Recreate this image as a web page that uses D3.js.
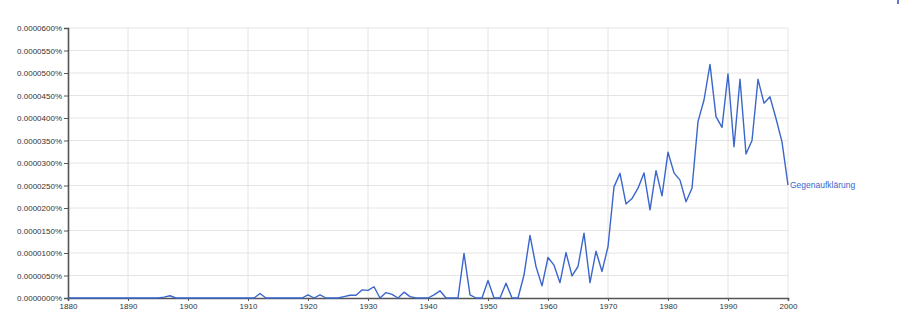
<!DOCTYPE html>
<html>
<head>
<meta charset="utf-8">
<script src="https://cdn.jsdelivr.net/npm/d3@7"></script>
<style>
  body { margin: 0; background: #fff; }
  svg { display: block; font-family: "Liberation Sans", Arial, sans-serif; }
</style>
</head>
<body>
<svg></svg>
<script>
// 資料：每十年一組，單位 0.000001%
const startYear = 1880;
const endYear = 2000;
const seriesName = "Gegenaufklärung";
const values = [
  0, 0, 0, 0, 0, 0, 0, 0, 0, 0,                          // 1880s
  0, 0, 0, 0, 0, 0, 0.2, 0.5, 0, 0,                      // 1890s
  0, 0, 0, 0, 0, 0, 0, 0, 0, 0,                          // 1900s
  0, 0, 1.0, 0, 0, 0, 0, 0, 0, 0,                        // 1910s
  0.7, 0, 0.7, 0, 0, 0, 0.3, 0.6, 0.6, 1.8,              // 1920s
  1.7, 2.5, 0, 1.2, 0.8, 0, 1.3, 0.3, 0, 0,              // 1930s
  0, 0.7, 1.6, 0, 0, 0, 9.9, 0.7, 0, 0,                  // 1940s
  3.9, 0, 0, 3.3, 0, 0, 5.1, 13.9, 7.0, 2.7,             // 1950s
  9.0, 7.3, 3.4, 10.1, 4.9, 7.0, 14.4, 3.4, 10.4, 5.9,   // 1960s
  11.4, 24.7, 27.7, 20.9, 22.1, 24.4, 27.8, 19.6, 28.3, 22.7, // 1970s
  32.4, 27.8, 26.2, 21.4, 24.4, 39.2, 44.0, 51.9, 40.3, 37.9, // 1980s
  49.8, 33.6, 48.6, 32.0, 35.0, 48.6, 43.3, 44.7, 39.9, 34.7, // 1990s
  25.1                                                   // 2000
];
const xTicks = [1880, 1890, 1900, 1910, 1920, 1930, 1940, 1950, 1960, 1970, 1980, 1990, 2000];
const yTicks = [0, 5, 10, 15, 20, 25, 30, 35, 40, 45, 50, 55, 60];

const years = d3.range(startYear, endYear + 1);
const data = years.map((y, i) => ({ year: y, value: values[i] }));

// 畫布
const svgSize = { width: 900, height: 318 };
const margin = { top: 28, right: 112, bottom: 20, left: 68 };
const width = svgSize.width - margin.left - margin.right;
const height = svgSize.height - margin.top - margin.bottom;

const svg = d3.select("svg")
  .attr("width", svgSize.width)
  .attr("height", svgSize.height);

const chart = svg.append("g")
  .attr("transform", `translate(${margin.left},${margin.top})`);

const x = d3.scaleLinear().domain([startYear, endYear]).range([0, width]);
const y = d3.scaleLinear().domain([0, 60]).range([height, 0]);

// 格線
chart.append("g")
  .selectAll("line.vgrid")
  .data(xTicks.slice(1))
  .enter().append("line")
  .attr("x1", d => x(d)).attr("x2", d => x(d))
  .attr("y1", 0).attr("y2", height)
  .attr("stroke", "#e4e4e4").attr("stroke-width", 1);

chart.append("g")
  .selectAll("line.hgrid")
  .data(yTicks.slice(1))
  .enter().append("line")
  .attr("x1", 0).attr("x2", width)
  .attr("y1", d => y(d)).attr("y2", d => y(d))
  .attr("stroke", "#e4e4e4").attr("stroke-width", 1);

// 座標軸
const yAxis = d3.axisLeft(y)
  .tickValues(yTicks)
  .tickSize(4)
  .tickPadding(2)
  .tickFormat(d => (d * 1e-6).toFixed(7) + "%");

const xAxis = d3.axisBottom(x)
  .tickValues(xTicks)
  .tickSize(3)
  .tickPadding(2)
  .tickFormat(d3.format("d"));

const gx = chart.append("g")
  .attr("transform", `translate(0,${height})`)
  .call(xAxis);
const gy = chart.append("g").call(yAxis);

[gx, gy].forEach(g => {
  g.select(".domain").attr("stroke", "#555").attr("stroke-width", 1.6);
  g.selectAll(".tick line").attr("stroke", "#555");
  g.selectAll(".tick text").attr("fill", "#333").style("font-size", "8px");
});

// 折線
const line = d3.line()
  .x(d => x(d.year))
  .y(d => y(d.value));

chart.append("path")
  .datum(data)
  .attr("fill", "none")
  .attr("stroke", "#3a66cc")
  .attr("stroke-width", 1.4)
  .attr("stroke-linejoin", "round")
  .attr("d", line);

// 系列名稱
const last = data[data.length - 1];
chart.append("text")
  .attr("x", x(last.year) + 2)
  .attr("y", y(last.value))
  .attr("dy", "0.35em")
  .attr("fill", "#3a66cc")
  .style("font-size", "8.5px")
  .text(seriesName);

// 右上角小記號
svg.append("rect")
  .attr("x", 897).attr("y", 0)
  .attr("width", 2).attr("height", 4)
  .attr("fill", "#6a78c8");
</script>
</body>
</html>
